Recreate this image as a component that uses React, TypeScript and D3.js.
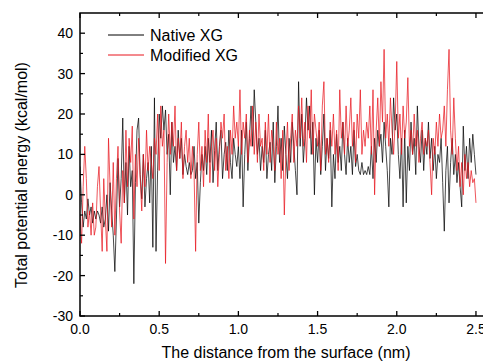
import React from "react";
import * as d3 from "d3";

const X_STEP = 0.01;

const nativeXG: number[] = [
  7, -2, -8, -4, -6, -1, -5, -3, -7, -4,
  -6, -4, -5, -7, -3, -8, -6, 0, -9, 3,
  -4, -10, -19, -6, 9, -3, 4, 19, -2, 8,
  -5, 12, 2, 6, -22, 3, 16, 19, 5, -1,
  10, -3, 4, 8, -2, 12, -13, 24, -14, 6,
  20, 14, 22, 16, 21, 10, 15, 0, 18, 8,
  12, 6, 16, 9, 14, 5, 10, 7, 5, 8,
  5, 6, 12, 4, 8, -7, 3, 10, 6, 12,
  5, 14, 8, 16, 3, 11, 18, 6, 12, 16,
  4, 10, 13, 6, 16, 8, 4, 14, 10, 7,
  12, 4, 16, -3, 10, 18, 6, 14, 22, 12,
  26, 18, 10, 14, 6, 12, 8, 16, 4, 10,
  13, 6, 18, 3, 12, 22, 8, 14, 6, 17,
  10, 4, 14, 8, 18, 12, 6, 0, 28, 12,
  20, 8, 14, 24, 16, 22, 10, 18, 0, 14,
  8, 16, 5, 12, 20, 6, 14, 9, 16, -3,
  10, 4, 15, 8, 12, 6, 18, 10, 5, 14,
  8, 12, 5, 16, 7, 10, 6, 5, 8, 5,
  6, 5, 7, 5, 12, 4, 14, 8, 16, 12,
  15, 8, 18, 12, 6, -3, 14, 10, 24, 16,
  20, 10, 4, 14, -3, 16, -2, 12, 6, 18,
  10, 14, 5, 22, 12, 8, 16, 6, 14, 10,
  18, 9, 14, 6, 12, 4, 10, 8, 14, 3,
  -9, 6, 12, -2, 8, 14, 5, 10, 3, 8,
  2, -3, 17, 6, 12, 4, 14, 8, 15, 10,
  5,
];

const modifiedXG: number[] = [
  -5, -12, 2, 12, 4, -8, -4, -10, -2, -10,
  -8, 2, 7, -4, -14, 4, -6, -14, 14, 2,
  -8, 8, -10, 4, 12, -4, -12, 6, -2, 16,
  2, 14, 8, 17, -6, 10, 2, 14, 4, -4,
  10, 2, 16, 6, 12, 8, 4, 14, 10, 20,
  6, 22, 12, 16, -17, 8, 20, 10, 18, 12,
  22, 6, 14, 9, 18, 4, 12, 16, 8, 14,
  4, 12, 6, -14, 10, 18, 6, 12, 2, 16,
  8, 20, 3, 12, 16, 6, 14, 2, 10, 18,
  14, 20, 6, 12, 4, 16, 10, 22, 14, 18,
  12, 26, 10, 18, 14, 20, 8, 16, 12, 22,
  10, 18, 8, 20, 12, 14, 6, 18, 10, 20,
  8, 16, 12, 6, 18, 10, 14, 4, 16, -5,
  10, 18, 6, 14, 20, 8, 16, 12, 22, 14,
  24, 12, 18, 8, 22, 14, 26, 10, 20, 16,
  12, 18, 6, 22, 28, 10, 14, 8, 18, 12,
  20, 10, 16, 6, 26, 14, 18, 10, 22, 12,
  16, 24, 12, 18, 8, 20, 14, 26, 10, 16,
  12, 18, 14, 22, 10, 26, 0, 16, 24, 12,
  28, 18, 36, 14, 20, 12, 24, 16, 10, 18,
  33, 14, 20, 10, 22, 14, 18, 29, 12, 16,
  10, 20, 12, 16, 8, 14, 18, 10, 14, 12,
  16, 8, 0, 14, 10, 18, 12, 20, 14, 16,
  22, 12, 26, 36, 16, 10, 24, 14, 6, 12,
  2, 8, 0, 10, 4, 8, 2, 6, 3, 4,
  -2,
];

const xTickValues = [0, 0.5, 1.0, 1.5, 2.0, 2.5];
const xMinorValues = [0.25, 0.75, 1.25, 1.75, 2.25];
const yTickValues = [-30, -20, -10, 0, 10, 20, 30, 40];
const yMinorValues = [-25, -15, -5, 5, 15, 25, 35];
const seriesNames = ["Native XG", "Modified XG"];
const seriesColors = ["#000000", "#e8141c"];

const W = 483;
const H = 364;
const FONT = "Arial, 'Liberation Sans', Helvetica, sans-serif";

export default function App() {
  const x = d3.scaleLinear().domain([0, 2.6]).range([80, 491.8]);
  const y = d3.scaleLinear().domain([-30, 45]).range([316, 13]);

  const line = d3
    .line<number>()
    .x((_, i) => x(i * X_STEP))
    .y((d) => y(d));

  const series = [nativeXG, modifiedXG];
  const left = x(0);
  const right = x(2.6);
  const top = y(45);
  const bottom = y(-30);

  return (
    <svg
      width={W}
      height={H}
      style={{ position: "absolute", left: 0, top: 0, display: "block", background: "#fff" }}
      fontFamily={FONT}
    >
      <defs>
        <clipPath id="plot">
          <rect x={left} y={top} width={right - left} height={bottom - top} />
        </clipPath>
      </defs>
      <g clipPath="url(#plot)">
        {series.map((s, i) => (
          <path
            key={i}
            d={line(s) || ""}
            fill="none"
            stroke={seriesColors[i]}
            strokeWidth={0.8}
            strokeLinejoin="round"
            opacity={i === 1 ? 0.9 : 0.9}
          />
        ))}
      </g>
      {/* frame */}
      <rect x={left} y={top} width={right - left} height={bottom - top} fill="none" stroke="#000" strokeWidth={1.5} />
      {/* x ticks bottom and top */}
      {xTickValues.map((v) => (
        <g key={"xt" + v}>
          <line x1={x(v)} x2={x(v)} y1={bottom} y2={bottom - 5} stroke="#000" strokeWidth={1.3} />
          <line x1={x(v)} x2={x(v)} y1={top} y2={top + 5} stroke="#000" strokeWidth={1.3} />
          <text x={x(v)} y={334} textAnchor="middle" fontSize={14} fill="#000">
            {d3.format(".1f")(v)}
          </text>
        </g>
      ))}
      {xMinorValues.map((v) => (
        <g key={"xm" + v}>
          <line x1={x(v)} x2={x(v)} y1={bottom} y2={bottom - 3} stroke="#000" strokeWidth={1.2} />
          <line x1={x(v)} x2={x(v)} y1={top} y2={top + 3} stroke="#000" strokeWidth={1.2} />
        </g>
      ))}
      {yTickValues.map((v) => (
        <g key={"yt" + v}>
          <line x1={left} x2={left + 5} y1={y(v)} y2={y(v)} stroke="#000" strokeWidth={1.3} />
          <text x={73} y={y(v)} dy="0.35em" textAnchor="end" fontSize={14} fill="#000">
            {v}
          </text>
        </g>
      ))}
      {yMinorValues.map((v) => (
        <line key={"ym" + v} x1={left} x2={left + 3} y1={y(v)} y2={y(v)} stroke="#000" strokeWidth={1.2} />
      ))}
      {/* legend */}
      {seriesNames.map((n, i) => (
        <g key={n}>
          <line x1={108} x2={144} y1={35 + i * 20} y2={35 + i * 20} stroke={seriesColors[i]} strokeWidth={1} />
          <text x={150} y={35 + i * 20} dy="0.35em" fontSize={16} fill="#000">
            {n}
          </text>
        </g>
      ))}
      {/* axis titles */}
      <text x={286} y={358} textAnchor="middle" fontSize={16} fill="#000">
        The distance from the surface (nm)
      </text>
      <text
        transform={`translate(27,175) rotate(-90)`}
        textAnchor="middle"
        fontSize={16}
        fill="#000"
      >
        Total potential energy (kcal/mol)
      </text>
    </svg>
  );
}
